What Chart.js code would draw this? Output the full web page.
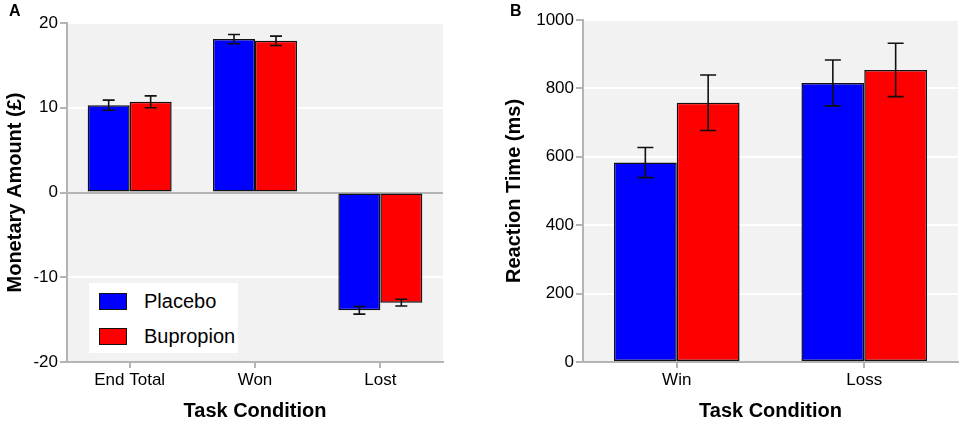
<!DOCTYPE html>
<html>
<head>
<meta charset="utf-8">
<script src="https://cdn.jsdelivr.net/npm/chart.js@4"></script>
<style>
  html, body { margin: 0; padding: 0; background: #fff; }
  body { width: 963px; height: 423px; position: relative; overflow: hidden;
         font-family: "Liberation Sans", Arial, sans-serif; }
  .panel { position: absolute; top: 0; height: 423px; }
  #panelA { left: 0; width: 480px; }
  #panelB { left: 480px; width: 483px; }
  .tag { position: absolute; top: 2px; font-weight: bold; font-size: 16px; color: #000; }
  .legend { position: absolute; left: 89px; top: 283px; width: 149px; height: 70px; background: #fff; }
  .legend .item { position: absolute; left: 10px; height: 18px; display: flex; align-items: center; }
  .legend .sw { width: 26px; height: 15px; border: 1px solid #111; margin-right: 17px; }
  .legend .lbl { font-size: 20px; color: #000; }
</style>
</head>
<body>
<div class="panel" id="panelA"><canvas id="chartA"></canvas></div>
<div class="panel" id="panelB"><canvas id="chartB"></canvas></div>
<div class="tag" style="left:9px">A</div>
<div class="tag" style="left:510px">B</div>
<div class="legend" id="legendA"></div>
<script>
  const seriesNames = ["Placebo", "Bupropion"];
  const seriesColors = ["#0000ff", "#ff0000"];

  // panel A: monetary amount
  const categoriesA = ["End Total", "Won", "Lost"];
  const placeboA = [10.3, 18.1, -13.9];
  const bupropionA = [10.7, 17.9, -13.0];
  const placeboErrA = [0.6, 0.55, 0.45];
  const bupropionErrA = [0.7, 0.55, 0.4];
  const ticksA = [-20, -10, 0, 10, 20];

  // panel B: reaction time
  const categoriesB = ["Win", "Loss"];
  const placeboB = [583, 816];
  const bupropionB = [758, 854];
  const placeboErrB = [44, 67];
  const bupropionErrB = [81, 78];
  const ticksB = [0, 200, 400, 600, 800, 1000];

  const axisGray = "#b4b4b4";
  const font = "'Liberation Sans', Arial, sans-serif";
  Chart.defaults.font.family = font;
  Chart.defaults.color = "#000";

  const plotBg = {
    id: "plotBg",
    beforeDraw(chart) {
      const a = chart.chartArea;
      chart.ctx.save();
      chart.ctx.fillStyle = "#f2f2f2";
      chart.ctx.fillRect(a.left, a.top, a.right - a.left, a.bottom - a.top);
      chart.ctx.restore();
    }
  };

  const errorBars = {
    id: "errorBars",
    afterDatasetsDraw(chart, args, opts) {
      const ctx = chart.ctx;
      const y = chart.scales.y;
      ctx.save();
      ctx.strokeStyle = "#111";
      ctx.lineWidth = 1.6;
      chart.data.datasets.forEach((ds, di) => {
        const meta = chart.getDatasetMeta(di);
        meta.data.forEach((bar, i) => {
          const v = ds.data[i];
          const e = ds.errors[i];
          const top = y.getPixelForValue(v + e);
          const bot = y.getPixelForValue(v - e);
          const half = opts.cap / 2;
          ctx.beginPath();
          ctx.moveTo(bar.x, top); ctx.lineTo(bar.x, bot);
          ctx.moveTo(bar.x - half, top); ctx.lineTo(bar.x + half, top);
          ctx.moveTo(bar.x - half, bot); ctx.lineTo(bar.x + half, bot);
          ctx.stroke();
        });
      });
      ctx.restore();
    }
  };

  function makeDatasets(values, errors) {
    return values.map((vals, k) => ({
      label: seriesNames[k],
      data: vals,
      errors: errors[k],
      backgroundColor: seriesColors[k],
      borderColor: "#111",
      borderWidth: 1.5,
      borderSkipped: false,
      categoryPercentage: 0.67,
      barPercentage: 1.0
    }));
  }

  function makeOptions(cfg) {
    return {
      responsive: true,
      maintainAspectRatio: false,
      animation: false,
      layout: { padding: cfg.padding },
      plugins: {
        legend: { display: false },
        tooltip: { enabled: false },
        errorBars: { cap: cfg.cap }
      },
      scales: {
        x: {
          afterFit: (s) => { s.height = 61; },
          grid: { offset: false, drawOnChartArea: false, tickLength: 6, tickColor: axisGray, lineWidth: 2 },
          border: { color: axisGray, width: 2 },
          ticks: { font: { size: 17 }, padding: 2, color: "#000" },
          title: { display: true, text: "Task Condition", font: { size: 20, weight: "bold" }, padding: { top: 0, bottom: 0 } }
        },
        y: {
          min: cfg.ticks[0],
          max: cfg.ticks[cfg.ticks.length - 1],
          afterFit: (s) => { s.width = cfg.yWidth; },
          afterBuildTicks: (s) => { s.ticks = cfg.ticks.map((v) => ({ value: v })); },
          grid: {
            color: (c) => (c.tick && c.tick.value === 0 && cfg.ticks[0] !== 0) ? axisGray : "#ffffff",
            lineWidth: 2,
            tickLength: 7,
            tickColor: axisGray
          },
          border: { color: axisGray, width: 2 },
          ticks: { font: { size: 17 }, padding: 2, color: "#000", callback: (v) => String(v) },
          title: { display: true, text: cfg.yTitle, font: { size: 20, weight: "bold" }, padding: { top: cfg.titlePad, bottom: 0 } }
        }
      }
    };
  }

  new Chart(document.getElementById("chartA"), {
    type: "bar",
    data: { labels: categoriesA, datasets: makeDatasets([placeboA, bupropionA], [placeboErrA, bupropionErrA]) },
    options: makeOptions({ padding: { top: 23, right: 37, left: 0, bottom: 0 }, ticks: ticksA, yWidth: 67, yTitle: "Monetary Amount (£)", titlePad: 3, cap: 12 }),
    plugins: [plotBg, errorBars]
  });

  new Chart(document.getElementById("chartB"), {
    type: "bar",
    data: { labels: categoriesB, datasets: makeDatasets([placeboB, bupropionB], [placeboErrB, bupropionErrB]) },
    options: makeOptions({ padding: { top: 20, right: 5, left: 0, bottom: 0 }, ticks: ticksB, yWidth: 103, yTitle: "Reaction Time (ms)", titlePad: 22, cap: 16 }),
    plugins: [plotBg, errorBars]
  });

  // legend drawn inside panel A's plot area
  const legendA = document.getElementById("legendA");
  seriesNames.forEach((name, k) => {
    const item = document.createElement("div");
    item.className = "item";
    item.style.top = (9 + k * 35) + "px";
    item.innerHTML = '<span class="sw" style="background:' + seriesColors[k] + '"></span><span class="lbl">' + name + "</span>";
    legendA.appendChild(item);
  });
</script>
</body>
</html>
